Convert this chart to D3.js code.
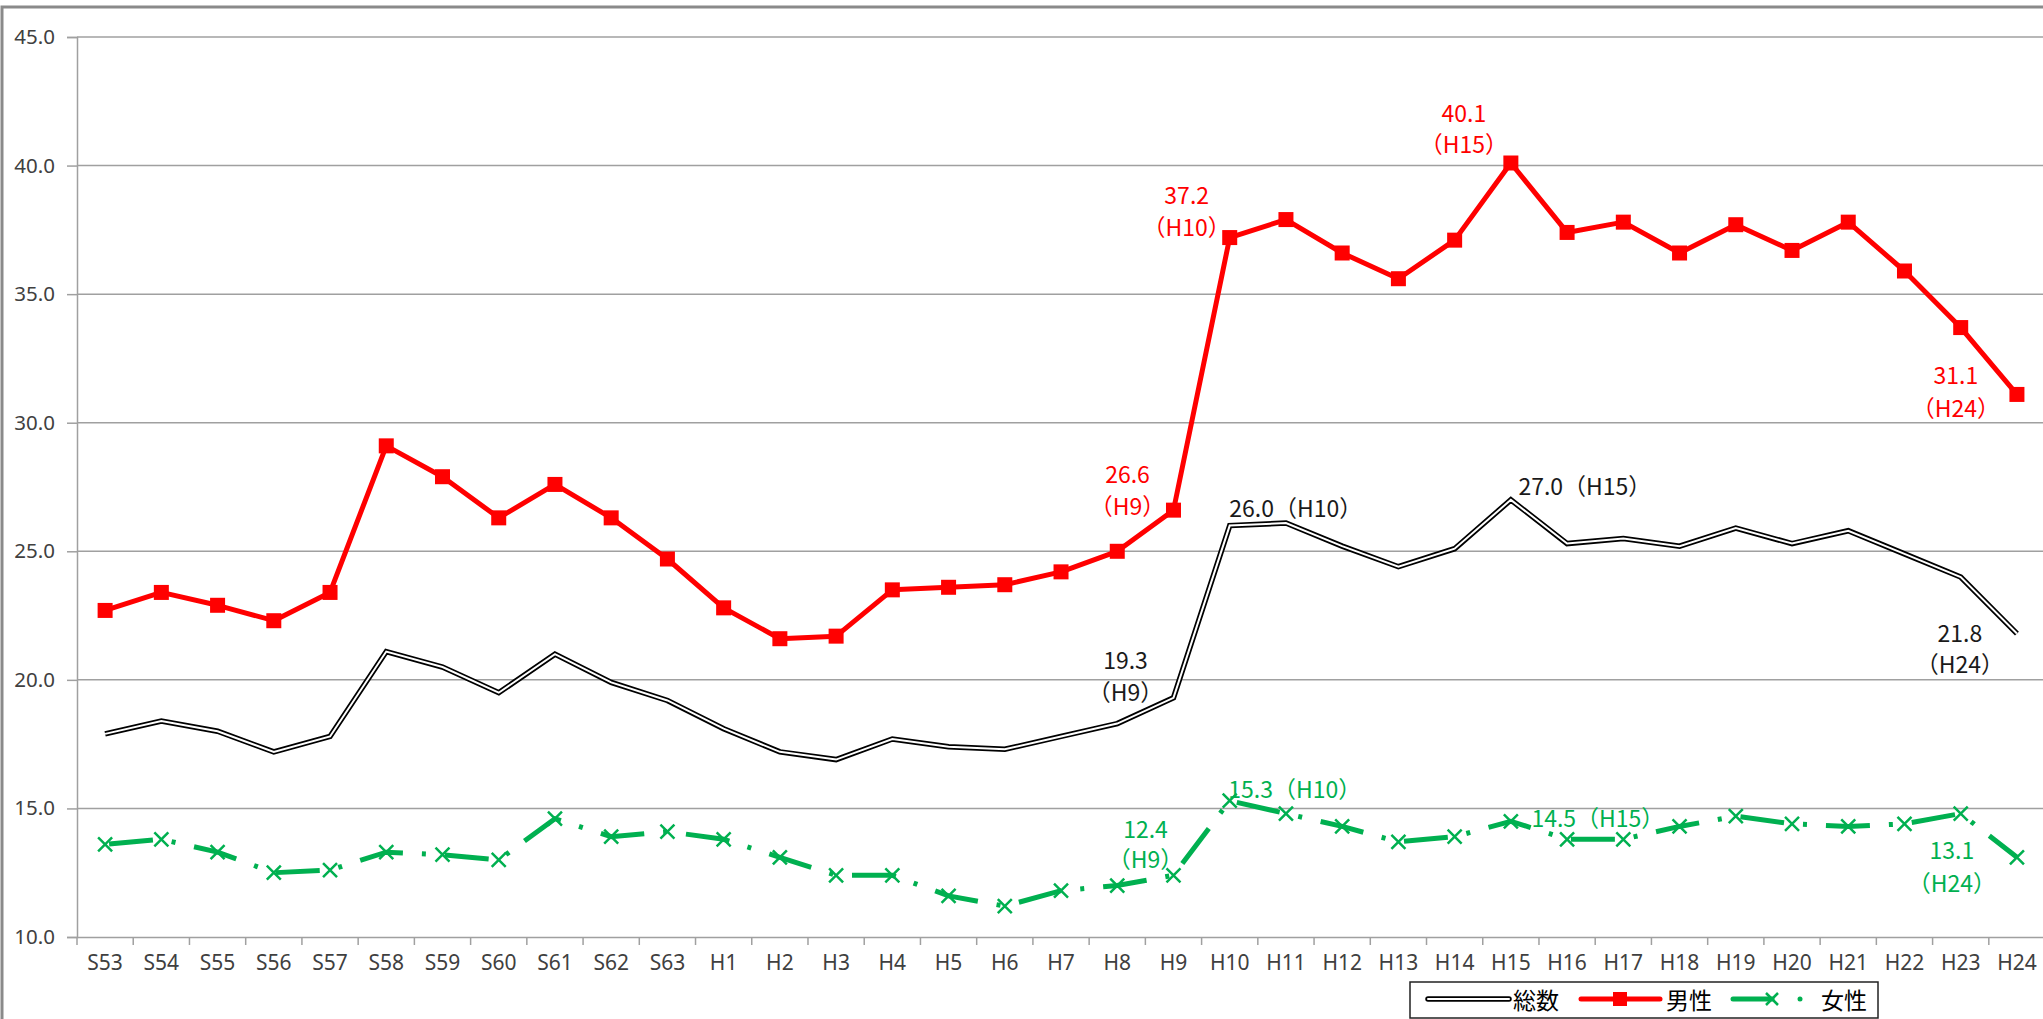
<!DOCTYPE html>
<html><head><meta charset="utf-8">
<script src="https://cdn.jsdelivr.net/npm/d3@7"></script>
<style>
html,body{margin:0;padding:0;background:#fff;overflow:hidden;}
text{font-family:"Noto Sans CJK JP","Noto Sans",sans-serif;}
</style></head>
<body>
<svg id="c" width="2043" height="1019"></svg>
<script>
const categories = ["S53","S54","S55","S56","S57","S58","S59","S60","S61","S62","S63",
 "H1","H2","H3","H4","H5","H6","H7","H8","H9","H10","H11","H12","H13","H14","H15",
 "H16","H17","H18","H19","H20","H21","H22","H23","H24"];
const totalValues = [17.9,18.4,18.0,17.2,17.8,21.1,20.5,19.5,21.0,19.9,19.2,
 18.1,17.2,16.9,17.7,17.4,17.3,17.8,18.3,19.3,26.0,26.1,25.2,24.4,25.1,27.0,
 25.3,25.5,25.2,25.9,25.3,25.8,24.9,24.0,21.8];
const maleValues = [22.7,23.4,22.9,22.3,23.4,29.1,27.9,26.3,27.6,26.3,24.7,
 22.8,21.6,21.7,23.5,23.6,23.7,24.2,25.0,26.6,37.2,37.9,36.6,35.6,37.1,40.1,
 37.4,37.8,36.6,37.7,36.7,37.8,35.9,33.7,31.1];
const femaleValues = [13.6,13.8,13.3,12.5,12.6,13.3,13.2,13.0,14.6,13.9,14.1,
 13.8,13.1,12.4,12.4,11.6,11.2,11.8,12.0,12.4,15.3,14.8,14.3,13.7,13.9,14.5,
 13.8,13.8,14.3,14.7,14.4,14.3,14.4,14.8,13.1];
const yTicks = [10,15,20,25,30,35,40,45];
const seriesNames = ["総数","男性","女性"];
// annotations: series index, category, text lines
const annotations = [
 {s:1,c:"H9", lines:["26.6","（H9）"]},
 {s:1,c:"H10",lines:["37.2","（H10）"]},
 {s:1,c:"H15",lines:["40.1","（H15）"]},
 {s:1,c:"H24",lines:["31.1","（H24）"]},
 {s:0,c:"H9", lines:["19.3","（H9）"]},
 {s:0,c:"H10",lines:["26.0（H10）"]},
 {s:0,c:"H15",lines:["27.0（H15）"]},
 {s:0,c:"H24",lines:["21.8","（H24）"]},
 {s:2,c:"H9", lines:["12.4","（H9）"]},
 {s:2,c:"H10",lines:["15.3（H10）"]},
 {s:2,c:"H15",lines:["14.5（H15）"]},
 {s:2,c:"H24",lines:["13.1","（H24）"]}
];
// label offsets (layout, not data)
const labelLayout = [
 {dx:-46,dy:[-37,-5]},{dx:-43,dy:[-44,-12]},{dx:-47,dy:[-51,-20]},{dx:-61,dy:[-20,13]},
 {dx:-48,dy:[-39,-7]},{dx:66,dy:[-19]},{dx:74,dy:[-15]},{dx:-57,dy:[-2,29]},
 {dx:-28,dy:[-47,-17]},{dx:65,dy:[-13]},{dx:87,dy:[-4]},{dx:-65,dy:[-8,25]}
];

const svg = d3.select("#c");
const series = [totalValues, maleValues, femaleValues];

const x = d3.scaleBand().domain(categories).range([77, 77 + 35*56.23]).padding(0);
const y = d3.scaleLinear().domain([10,45]).range([937,37]);
const cx = c => x(c) + x.bandwidth()/2;

// outer frame
svg.append("rect").attr("x",2).attr("y",7).attr("width",2100).attr("height",1100)
  .attr("fill","none").attr("stroke","#8a8a8a").attr("stroke-width",3);

// gridlines
svg.append("g").selectAll("line").data(yTicks.filter(v=>v>10)).join("line")
  .attr("x1",77).attr("x2",2045).attr("y1",d=>y(d)).attr("y2",d=>y(d))
  .attr("stroke","#a0a0a0").attr("stroke-width",1.5);

// y axis
const yAxis = d3.axisLeft(y).tickValues(yTicks).tickFormat(d3.format(".1f")).tickSize(10).tickPadding(12);
const gy = svg.append("g").attr("transform","translate(77,0)").call(yAxis);
gy.select(".domain").attr("stroke","#a0a0a0").attr("stroke-width",1.5);
gy.selectAll(".tick line").attr("stroke","#a0a0a0").attr("stroke-width",1.5);
gy.selectAll(".tick text").attr("font-size",20.5).attr("fill","#404040")
  .style("font-family","'Noto Sans',sans-serif");

// x axis
const xAxis = d3.axisBottom(x).tickSize(0).tickPadding(18);
const gx = svg.append("g").attr("transform","translate(0,937)").call(xAxis);
gx.select(".domain").attr("stroke","#a0a0a0").attr("stroke-width",1.5);
gx.selectAll(".tick text").attr("font-size",21).attr("fill","#404040")
  .style("font-family","'Noto Sans',sans-serif");
// tick marks at band boundaries
svg.append("g").selectAll("line").data(categories.concat(["__end"])).join("line")
  .attr("x1",(d,i)=>77+i*x.bandwidth()).attr("x2",(d,i)=>77+i*x.bandwidth())
  .attr("y1",937).attr("y2",945).attr("stroke","#a0a0a0").attr("stroke-width",1.5);

const line = d3.line().x((d,i)=>cx(categories[i])).y(d=>y(d));

// total: double line
svg.append("path").datum(totalValues).attr("d",line).attr("fill","none")
  .attr("stroke","#000").attr("stroke-width",5.5).attr("stroke-linejoin","miter");
svg.append("path").datum(totalValues).attr("d",line).attr("fill","none")
  .attr("stroke","#fff").attr("stroke-width",2).attr("stroke-linejoin","miter");

// male
svg.append("path").datum(maleValues).attr("d",line).attr("fill","none")
  .attr("stroke","#FF0000").attr("stroke-width",5).attr("stroke-linejoin","round");
svg.append("g").selectAll("rect").data(maleValues).join("rect")
  .attr("x",(d,i)=>cx(categories[i])-7.5).attr("y",d=>y(d)-7.5)
  .attr("width",15).attr("height",15).attr("fill","#FF0000");

// female
svg.append("path").datum(femaleValues).attr("d",line).attr("fill","none")
  .attr("stroke","#00B050").attr("stroke-width",5)
  .attr("stroke-dasharray","44,19,4,19").attr("stroke-dashoffset",-4);
svg.append("g").selectAll("path").data(femaleValues).join("path")
  .attr("d",(d,i)=>{const px=cx(categories[i]), py=y(d), r=7;
    return `M${px-r},${py-r}L${px+r},${py+r}M${px-r},${py+r}L${px+r},${py-r}`;})
  .attr("stroke","#00B050").attr("stroke-width",2.5).attr("fill","none");

// annotations
const labelColors = ["#1a1a1a","#FF0000","#00B050"];
annotations.forEach((a,k)=>{
  const lay = labelLayout[k];
  const px = cx(a.c), py = y(series[a.s][categories.indexOf(a.c)]);
  a.lines.forEach((t,j)=>{
    svg.append("text").attr("x",px+lay.dx).attr("y",py+lay.dy[j])
      .attr("text-anchor","middle").attr("dominant-baseline","central")
      .attr("font-size",23).attr("fill",labelColors[a.s]).text(t);
  });
});

// legend
const lg = svg.append("g");
lg.append("rect").attr("x",1410).attr("y",982).attr("width",468).attr("height",36)
  .attr("fill","#fff").attr("stroke","#222").attr("stroke-width",1.5);
const ly = 999;
lg.append("line").attr("x1",1428).attr("x2",1509).attr("y1",ly).attr("y2",ly)
  .attr("stroke","#000").attr("stroke-width",5.5).attr("stroke-linecap","round");
lg.append("line").attr("x1",1428).attr("x2",1509).attr("y1",ly).attr("y2",ly)
  .attr("stroke","#fff").attr("stroke-width",2).attr("stroke-linecap","round");
lg.append("line").attr("x1",1581).attr("x2",1660).attr("y1",ly).attr("y2",ly)
  .attr("stroke","#FF0000").attr("stroke-width",5).attr("stroke-linecap","round");
lg.append("rect").attr("x",1613).attr("y",ly-7).attr("width",14).attr("height",14).attr("fill","#FF0000");
lg.append("line").attr("x1",1733).attr("x2",1772).attr("y1",ly).attr("y2",ly)
  .attr("stroke","#00B050").attr("stroke-width",5).attr("stroke-linecap","round");
lg.append("path").attr("d",`M${1772-6},${ly-6}L${1772+6},${ly+6}M${1772-6},${ly+6}L${1772+6},${ly-6}`)
  .attr("stroke","#00B050").attr("stroke-width",2.5);
lg.append("circle").attr("cx",1800).attr("cy",ly).attr("r",2.5).attr("fill","#00B050");
const lx = [1513,1666,1821];
seriesNames.forEach((n,i)=>{
  lg.append("text").attr("x",lx[i]).attr("y",ly).attr("dominant-baseline","central")
    .attr("font-size",23).attr("fill","#000").text(n);
});
</script>
</body></html>
